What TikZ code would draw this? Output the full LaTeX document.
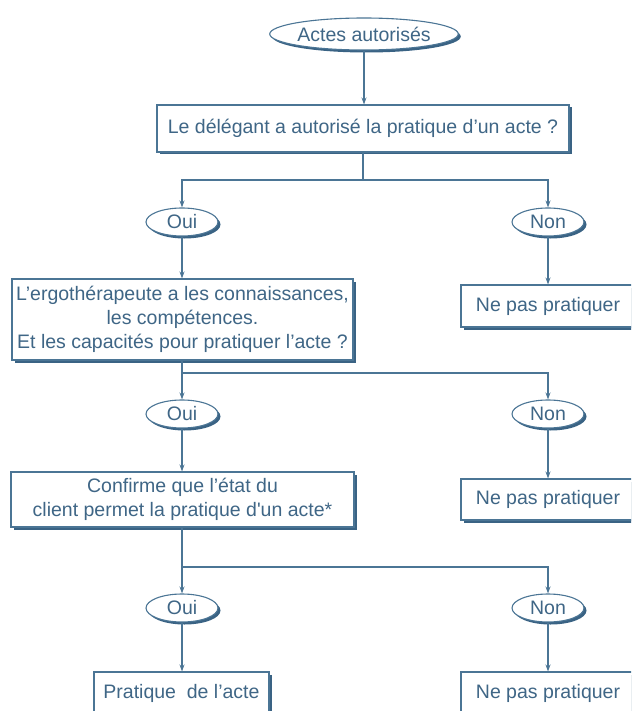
\documentclass[tikz,border=0pt]{standalone}
\usepackage{fontspec}
\setmainfont{Liberation Sans}
\usetikzlibrary{shapes.geometric,shadows,arrows.meta}
\definecolor{ln}{HTML}{4B7595}
\definecolor{tx}{HTML}{3F6686}
\definecolor{shd}{HTML}{3A6384}
\tikzset{
  shd/.style={drop shadow={shadow xshift=2.5pt,shadow yshift=-2.5pt,fill=shd,opacity=1}},
  box/.style={draw=ln,line width=1.1pt,fill=white,text=tx,font=\fontsize{19.5}{24}\selectfont,
    align=center,inner sep=0pt,shd},
  oval/.style={ellipse,draw=ln,line width=1.1pt,fill=white,text=tx,font=\fontsize{19.5}{24}\selectfont,
    inner sep=0pt,shd},
  conn/.style={draw=ln,line width=1.1pt},
  arr/.style={conn,-{Stealth[length=7pt,width=5pt]}}
}
\begin{document}
\begin{tikzpicture}[x=1pt,y=-1pt]
\useasboundingbox (0,0) rectangle (631,711);
\clip (0,0) rectangle (631,711);
% nodes
\node[oval,minimum width=178pt,minimum height=32pt] (top) at (364,34) {Actes autorisés};
\node[box,minimum width=412pt,minimum height=47pt] (box1) at (363,128.5) {Le délégant a autorisé la pratique d’un acte ?};
\node[oval,minimum width=72pt,minimum height=28pt] (oui1) at (182,222) {Oui};
\node[oval,minimum width=72pt,minimum height=28pt] (non1) at (548,222) {Non};
\node[box,minimum width=341pt,minimum height=81pt] (box2) at (182.5,319.5) {L’ergothérapeute a les connaissances,\\les compétences.\\Et les capacités pour pratiquer l’acte ?};
\node[box,minimum width=174pt,minimum height=42pt] (nonA) at (548,306) {Ne pas pratiquer};
\node[oval,minimum width=72pt,minimum height=28pt] (oui2) at (182,414) {Oui};
\node[oval,minimum width=72pt,minimum height=28pt] (non2) at (548,414) {Non};
\node[box,minimum width=343pt,minimum height=55pt] (box3) at (182.5,499.5) {Confirme que l’état du\\client permet la pratique d\textquotesingle un acte*};
\node[box,minimum width=174pt,minimum height=41pt] (nonB) at (548,499.5) {Ne pas pratiquer};
\node[oval,minimum width=72pt,minimum height=28pt] (oui3) at (182,608) {Oui};
\node[oval,minimum width=72pt,minimum height=28pt] (non3) at (548,608) {Non};
\node[box,minimum width=175pt,minimum height=42pt] (box4) at (181.5,693) {Pratique\ \ de l’acte};
\node[box,minimum width=174pt,minimum height=42pt] (nonC) at (548,693) {Ne pas pratiquer};
% connectors
\draw[arr] (top.south) -- (top.south |- box1.north);
\coordinate (b1) at (363,180);
\draw[conn] (box1.south) -- (b1);
\draw[arr] (b1) -| (oui1.north);
\draw[arr] (b1) -| (non1.north);
\draw[arr] (oui1.south) -- (oui1.south |- box2.north);
\draw[arr] (non1.south) -- (non1.south |- nonA.north);
\coordinate (b2) at (182,373);
\draw[arr] (oui2.north |- box2.south) -- (oui2.north);
\draw[arr] (b2) -| (non2.north);
\draw[arr] (oui2.south) -- (oui2.south |- box3.north);
\draw[arr] (non2.south) -- (non2.south |- nonB.north);
\coordinate (b3) at (182,567);
\draw[arr] (oui3.north |- box3.south) -- (oui3.north);
\draw[arr] (b3) -| (non3.north);
\draw[arr] (oui3.south) -- (oui3.south |- box4.north);
\draw[arr] (non3.south) -- (non3.south |- nonC.north);
\end{tikzpicture}
\end{document}
